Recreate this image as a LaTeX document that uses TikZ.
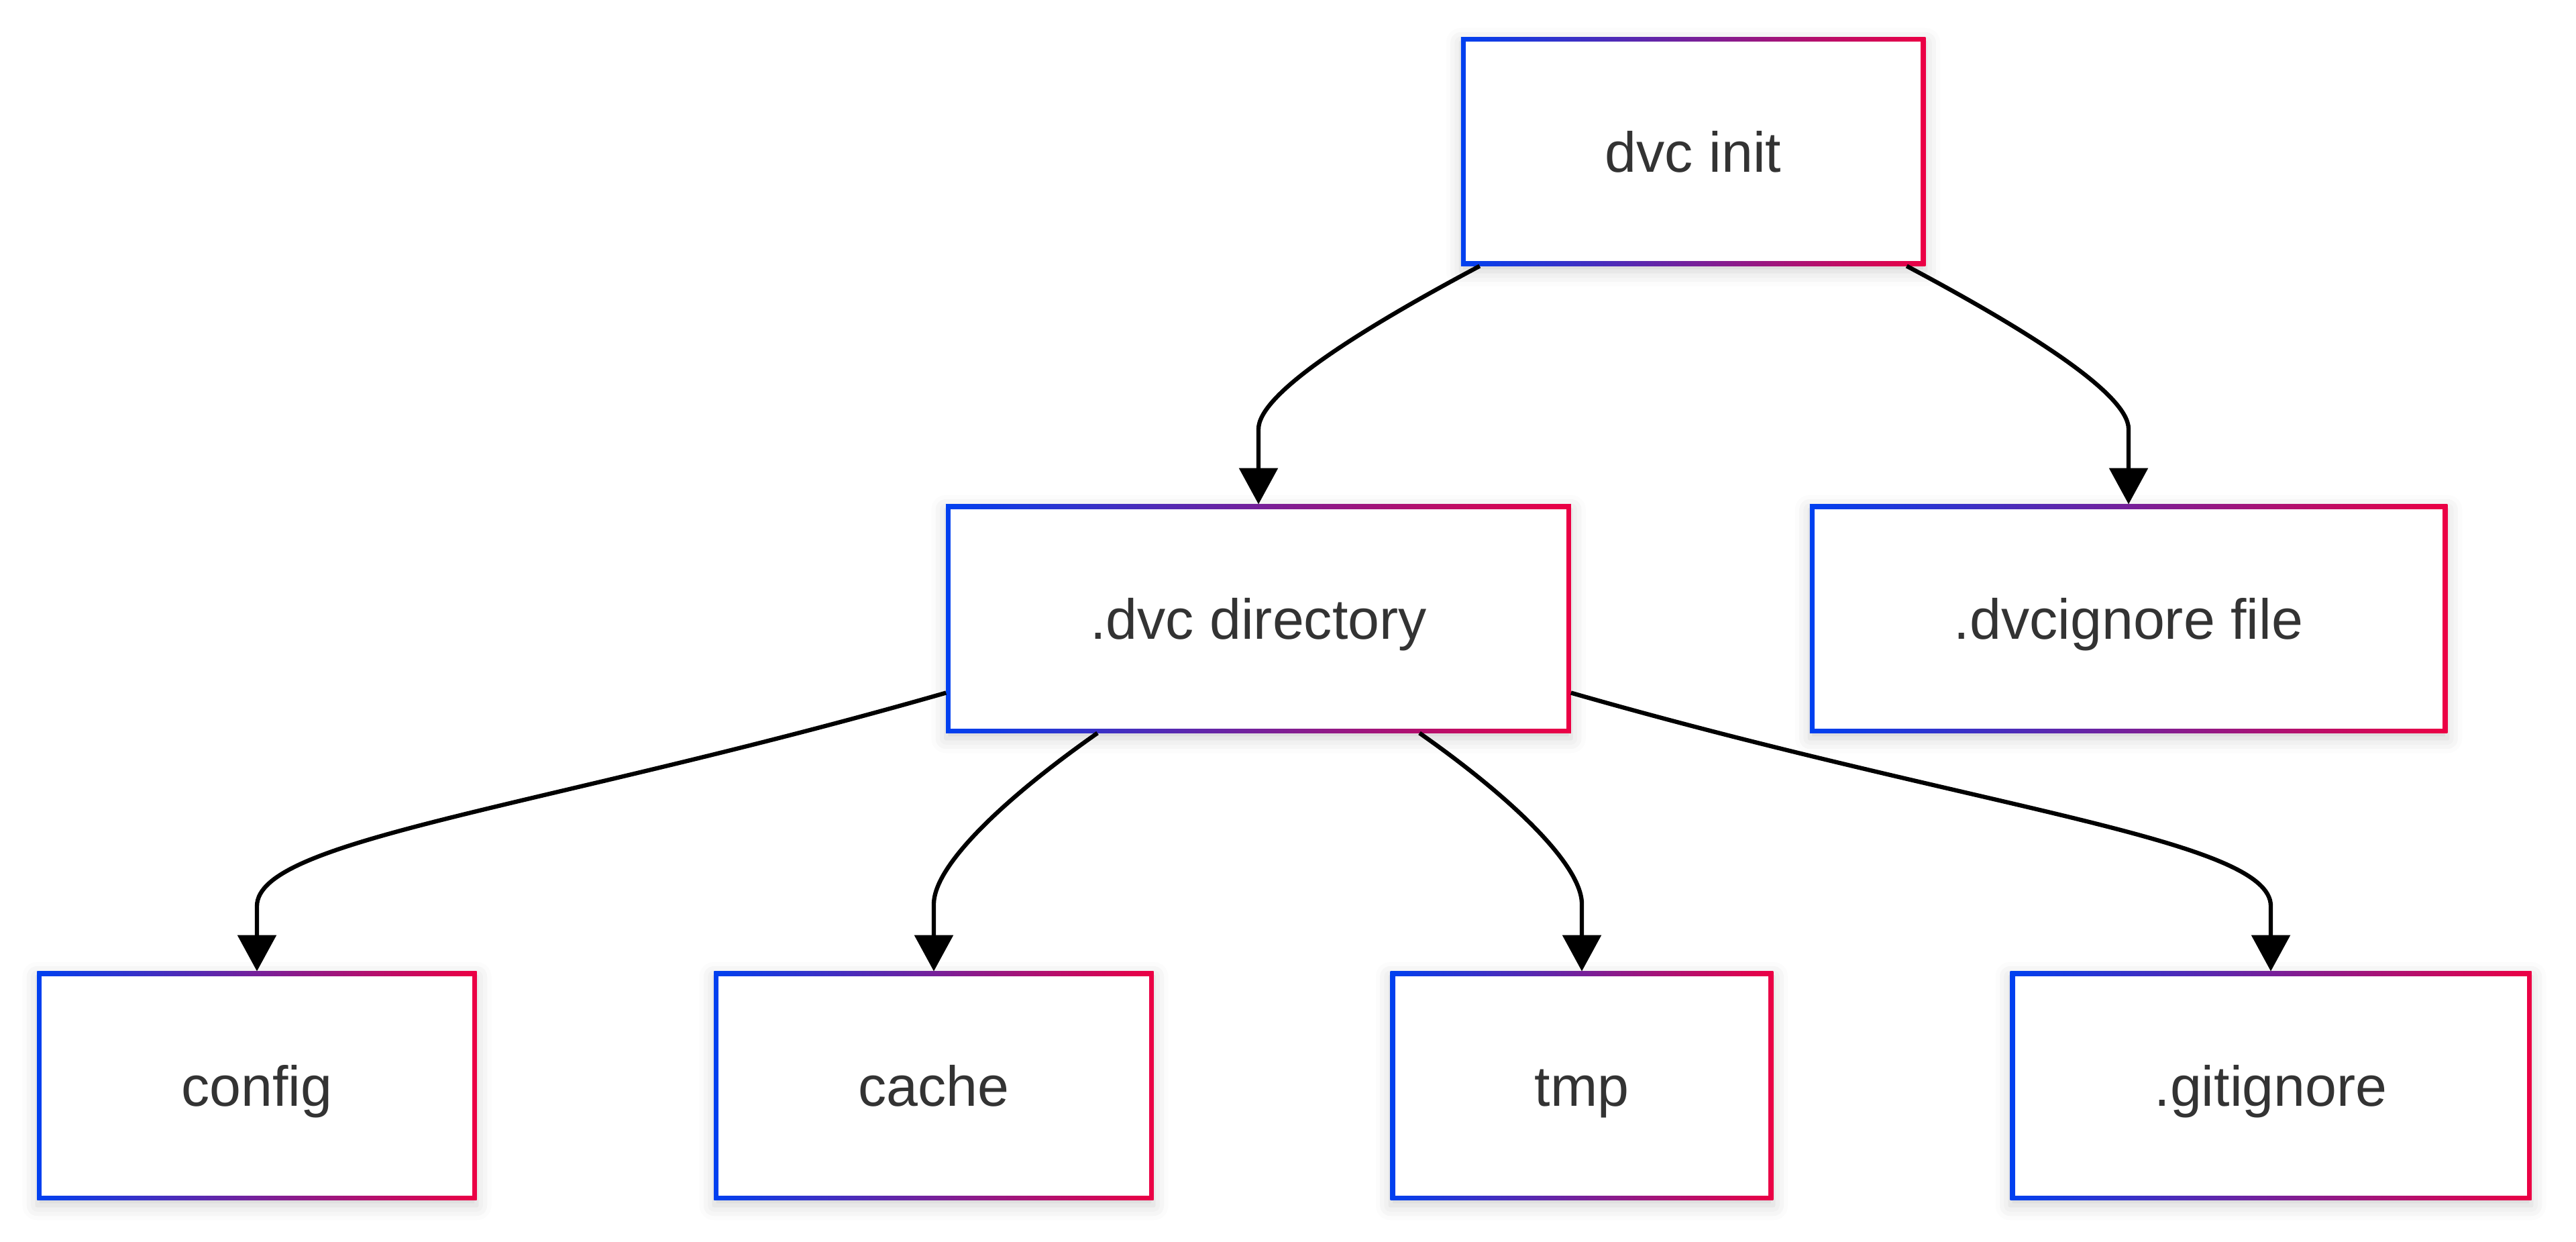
\documentclass[tikz,border=0pt]{standalone}
\usepackage{fontspec}
\setmainfont{Liberation Sans}
\usetikzlibrary{arrows.meta,shadows.blur}

\definecolor{dvcblue}{RGB}{0,64,240}
\definecolor{dvcred}{RGB}{236,0,68}
\definecolor{dvctext}{RGB}{51,51,51}

\tikzset{
  dvcbox/.style={left color=dvcblue, right color=dvcred, text=dvctext,
    minimum height=3.41cm, inner xsep=2.15cm, inner ysep=0pt, outer sep=0pt,
    text height=17.2pt, text depth=0pt,
    font=\fontsize{24}{29}\selectfont,
    blur shadow={shadow xshift=0cm, shadow yshift=-.08cm,
      shadow blur radius=.22cm, shadow opacity=18},
    path picture={\fill[white]
      ([shift={(.07,-.07)}]path picture bounding box.north west) rectangle
      ([shift={(-.07,.07)}]path picture bounding box.south east);}},
  link/.style={draw=black, line width=1.8pt,
    -{Triangle[length=.54cm,width=.57cm]}}
}

\begin{document}
\begin{tikzpicture}
  \useasboundingbox (0,0) rectangle (38.4,-18.51);

  \node[dvcbox] (init)   at (25.24,-2.26)  {dvc init};
  \node[dvcbox] (dvcdir) at (18.76,-9.22)  {.dvc directory};
  \node[dvcbox] (ignore) at (31.73,-9.22)  {.dvcignore file};
  \node[dvcbox] (config) at (3.83,-16.18)  {config};
  \node[dvcbox] (cache)  at (13.92,-16.18) {cache};
  \node[dvcbox] (tmp)    at (23.58,-16.18) {tmp};
  \node[dvcbox] (gitign) at (33.85,-16.18) {.gitignore};

  \draw[link] ([xshift=.28cm]init.south west)
    .. controls +(208:2.2) and +(0,.5) .. ([yshift=1.12cm]dvcdir.north) -- (dvcdir.north);
  \draw[link] ([xshift=-.28cm]init.south east)
    .. controls +(-28:2.2) and +(0,.5) .. ([yshift=1.12cm]ignore.north) -- (ignore.north);
  \draw[link] ([yshift=.6cm]dvcdir.south west)
    .. controls +(196:6.3) and +(0,1) .. ([yshift=.97cm]config.north) -- (config.north);
  \draw[link] ([xshift=-2.4cm]dvcdir.south)
    .. controls +(215:1.6) and +(0,.6) .. ([yshift=1cm]cache.north) -- (cache.north);
  \draw[link] ([xshift=2.4cm]dvcdir.south)
    .. controls +(-35:1.6) and +(0,.6) .. ([yshift=1cm]tmp.north) -- (tmp.north);
  \draw[link] ([yshift=.6cm]dvcdir.south east)
    .. controls +(-16:6.3) and +(0,1) .. ([yshift=.97cm]gitign.north) -- (gitign.north);
\end{tikzpicture}
\end{document}
